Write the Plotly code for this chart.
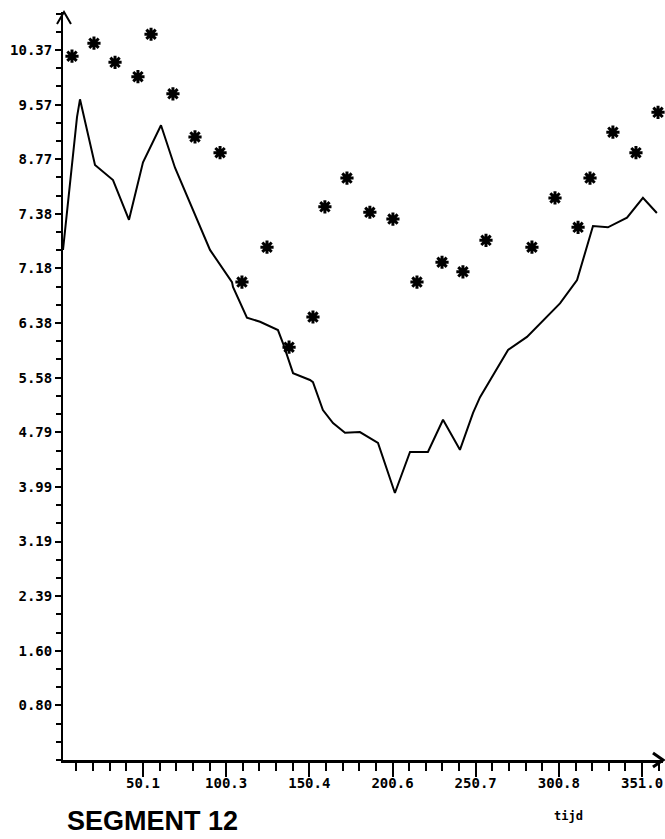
import plotly.graph_objects as go

# ---- data ----
line_x = [1.93, 4.94, 10.37, 12.17, 16.99, 21.22, 32.07, 41.71, 50.15, 61.0, 69.44, 74.27,
          90.54, 103.8, 104.4, 112.8, 120.7, 131.5, 134.5, 140.6, 150.8, 152.6, 158.6,
          164.7, 171.9, 180.9, 191.8, 202.0, 211.1, 221.9, 231.0, 241.2, 249.1, 253.3,
          260.5, 270.2, 281.6, 301.5, 311.8, 321.4, 330.4, 341.9, 351.5, 359.9]
line_y = [7.45, 8.18, 9.39, 9.65, 9.13, 8.69, 8.47, 7.89, 8.73, 9.27, 8.65, 8.37,
          7.45, 6.98, 6.91, 6.46, 6.40, 6.28, 6.09, 5.65, 5.55, 5.52, 5.11,
          4.92, 4.78, 4.79, 4.63, 3.90, 4.50, 4.50, 4.97, 4.53, 5.07, 5.30,
          5.59, 5.99, 6.18, 6.67, 7.01, 7.80, 7.78, 7.92, 8.21, 7.99]

star_x = [7.35, 20.6, 33.3, 47.1, 55.0, 68.2, 81.5, 96.6, 109.8, 124.9, 138.2, 152.6,
          159.8, 173.1, 186.9, 200.8, 215.3, 230.4, 243.0, 256.9, 284.6, 298.5,
          312.4, 319.6, 333.4, 347.3, 360.6]
star_y = [10.28, 10.47, 10.19, 9.98, 10.60, 9.73, 9.10, 8.87, 6.98, 7.49, 6.03, 6.47,
          8.08, 8.50, 8.00, 7.90, 6.98, 7.27, 7.13, 7.59, 7.49, 8.21,
          7.78, 8.50, 9.17, 8.87, 9.46]

y_tick_step = 0.7977
y_tick_labels = ["0.80", "1.60", "2.39", "3.19", "3.99", "4.79", "5.58", "6.38",
                 "7.18", "7.38", "8.77", "9.57", "10.37"]
x_tick_step = 50.14
x_tick_labels = ["50.1", "100.3", "150.4", "200.6", "250.7", "300.8", "351.0"]

x_range = [1.93, 363.6]
y_range = [0, 10.925]

y_tick_vals = [y_tick_step * (i + 1) for i in range(len(y_tick_labels))]
x_tick_vals = [x_tick_step * (i + 1) for i in range(len(x_tick_labels))]

tick_font = dict(family="DejaVu Sans Mono", size=14, color="black", weight="bold")

fig = go.Figure()
fig.add_trace(go.Scatter(x=line_x, y=line_y, mode="lines",
                         line=dict(color="black", width=2), showlegend=False,
                         cliponaxis=False))
fig.add_trace(go.Scatter(x=star_x, y=star_y, mode="markers",
                         marker=dict(symbol="asterisk-open", size=11, color="black",
                                     line=dict(color="black", width=3)),
                         showlegend=False, cliponaxis=False))

fig.update_layout(
    width=665, height=839,
    margin=dict(l=63, r=2, t=12, b=79),
    paper_bgcolor="white", plot_bgcolor="white",
    xaxis=dict(range=x_range, showgrid=False, zeroline=False,
               showline=True, linecolor="black", linewidth=3,
               tickmode="array", tickvals=x_tick_vals, ticktext=x_tick_labels,
               ticks="outside", ticklen=14, tickwidth=1.5, tickcolor="black",
               tickfont=tick_font, ticklabelstandoff=-6,
               minor=dict(tickmode="linear", tick0=0, dtick=x_tick_step / 5,
                          ticks="outside", ticklen=8, tickwidth=1.5, tickcolor="black")),
    yaxis=dict(range=y_range, showgrid=False, zeroline=False,
               showline=True, linecolor="black", linewidth=2,
               tickmode="array", tickvals=y_tick_vals, ticktext=y_tick_labels,
               ticks="outside", ticklen=6, tickwidth=2, tickcolor="black",
               tickfont=tick_font,
               minor=dict(tickmode="linear", tick0=0, dtick=y_tick_step / 3,
                          ticks="outside", ticklen=5, tickwidth=2, tickcolor="black")),
    shapes=[
        dict(type="path", xref="paper", yref="paper",
             path="M -0.010,0.984 L 0.00167,1.0 L 0.0133,0.984",
             line=dict(color="black", width=2)),
        dict(type="path", xref="paper", yref="paper",
             path="M 0.9833,0.00936 L 1.0,0 L 0.9833,-0.00936",
             line=dict(color="black", width=3)),
    ],
    annotations=[
        dict(text="SEGMENT 12", xref="paper", yref="paper", x=0.0033, y=(760 - 821) / 748,
             xanchor="left", yanchor="middle", showarrow=False,
             font=dict(family="Liberation Sans", size=27, color="black", weight="bold")),
        dict(text="tijd", xref="paper", yref="paper", x=(568 - 63) / 600, y=(760 - 816) / 748,
             xanchor="center", yanchor="middle", showarrow=False,
             font=dict(family="DejaVu Sans Mono", size=12, color="black", weight="bold")),
    ],
)

fig.write_html("out.html")
